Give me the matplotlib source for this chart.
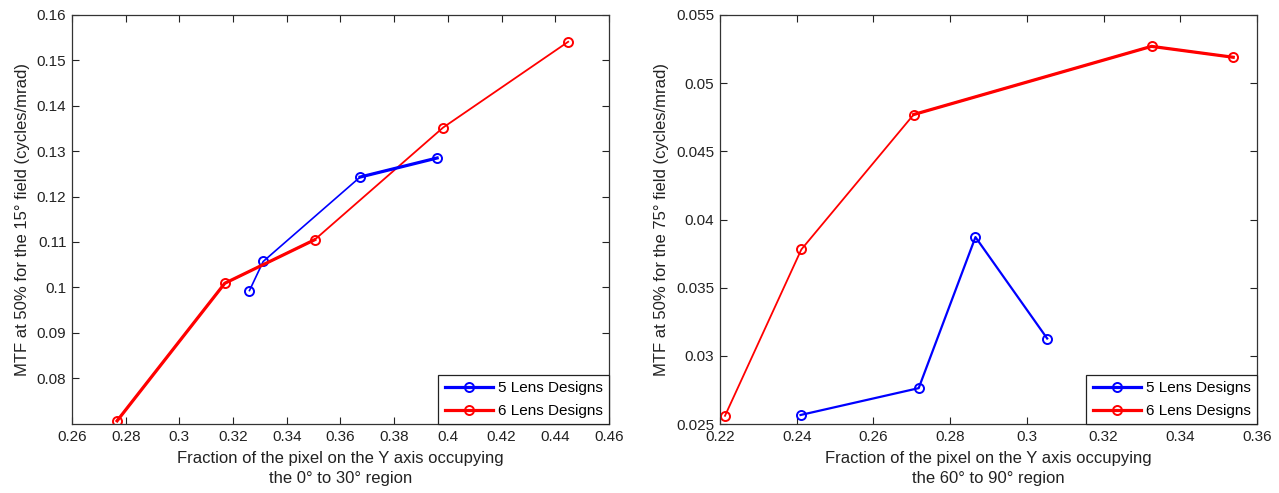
import numpy as np
import matplotlib
matplotlib.use("Agg")
import matplotlib.pyplot as plt

plt.rcParams['font.family'] = ['Liberation Sans', 'DejaVu Sans']

# left panel: 15 deg field vs fraction in 0-30 deg region
left_x5 = [0.3261, 0.3312, 0.3673, 0.3960]
left_y5 = [0.0993, 0.1057, 0.1243, 0.1285]
left_x6 = [0.2768, 0.3169, 0.3504, 0.3982, 0.4448]
left_y6 = [0.0706, 0.1009, 0.1105, 0.1352, 0.1541]

# right panel: 75 deg field vs fraction in 60-90 deg region
right_x5 = [0.2410, 0.2718, 0.2866, 0.3053]
right_y5 = [0.02566, 0.02763, 0.03871, 0.03127]
right_x6 = [0.2213, 0.2412, 0.2705, 0.3325, 0.3538]
right_y6 = [0.0256, 0.0378, 0.0477, 0.0527, 0.0519]

left_xticks = [0.26, 0.28, 0.3, 0.32, 0.34, 0.36, 0.38, 0.4, 0.42, 0.44, 0.46]
left_yticks = [0.08, 0.09, 0.1, 0.11, 0.12, 0.13, 0.14, 0.15, 0.16]
right_xticks = [0.22, 0.24, 0.26, 0.28, 0.3, 0.32, 0.34, 0.36]
right_yticks = [0.025, 0.03, 0.035, 0.04, 0.045, 0.05, 0.055]

labels = ['5 Lens Designs', '6 Lens Designs']


def fmt(v):
    return ('%g' % v)


def draw(ax, x5, y5, x6, y6, lw5, thick5, thick6, xticks, yticks, xlim, ylim,
         xlabel, ylabel):
    mk = dict(marker='o', markersize=6.5, markerfacecolor='none',
              markeredgewidth=1.4)
    ax.plot(x5, y5, color='#0000ff', lw=lw5, **mk)
    ax.plot(x6, y6, color='#ff0000', lw=1.3, **mk)
    # some segments were drawn twice in the original, so they look heavier
    a, b = thick5
    if b > a:
        ax.plot(x5[a:b + 1], y5[a:b + 1], color='#0000ff', lw=2.3)
    a, b = thick6
    if b > a:
        ax.plot(x6[a:b + 1], y6[a:b + 1], color='#ff0000', lw=2.3)

    ax.set_xlim(*xlim)
    ax.set_ylim(*ylim)
    ax.set_xticks(xticks)
    ax.set_xticklabels([fmt(v) for v in xticks])
    ax.set_yticks(yticks)
    ax.set_yticklabels([fmt(v) for v in yticks])
    ax.tick_params(direction='in', length=5, width=0.8, top=True, right=True,
                   labelsize=11, pad=4, colors='#222222')
    for s in ax.spines.values():
        s.set_linewidth(0.9)
        s.set_color('#333333')
    ax.set_xlabel(xlabel, fontsize=12, color='#222222', labelpad=5,
                  linespacing=1.45)
    ax.set_ylabel(ylabel, fontsize=12, color='#222222', labelpad=5)

    l5 = plt.Line2D([], [], color='#0000ff', lw=2.3, **mk)
    l6 = plt.Line2D([], [], color='#ff0000', lw=2.3, **mk)
    leg = ax.legend([l5, l6], labels, loc='lower right', fontsize=11,
                    fancybox=False, borderaxespad=0, handlelength=3.2,
                    handletextpad=0.3, borderpad=0.4, labelspacing=0.55,
                    framealpha=1)
    leg.get_frame().set_edgecolor('#222222')
    leg.get_frame().set_linewidth(0.9)


fig = plt.figure(figsize=(12.79, 4.93), dpi=100)
ax1 = fig.add_axes([72 / 1279, 69 / 493, 537 / 1279, 409 / 493])
ax2 = fig.add_axes([720 / 1279, 69 / 493, 537 / 1279, 409 / 493])

draw(ax1, left_x5, left_y5, left_x6, left_y6, 1.2, (2, 3), (0, 2),
     left_xticks, left_yticks, (0.26, 0.46), (0.0699, 0.16),
     'Fraction of the pixel on the Y axis occupying\nthe 0\u00b0 to 30\u00b0 region',
     'MTF at 50% for the 15\u00b0 field (cycles/mrad)')
draw(ax2, right_x5, right_y5, right_x6, right_y6, 1.6, (0, 0), (2, 4),
     right_xticks, right_yticks, (0.22, 0.36), (0.025, 0.055),
     'Fraction of the pixel on the Y axis occupying\nthe 60\u00b0 to 90\u00b0 region',
     'MTF at 50% for the 75\u00b0 field (cycles/mrad)')

fig.savefig('out.png', dpi=100)
